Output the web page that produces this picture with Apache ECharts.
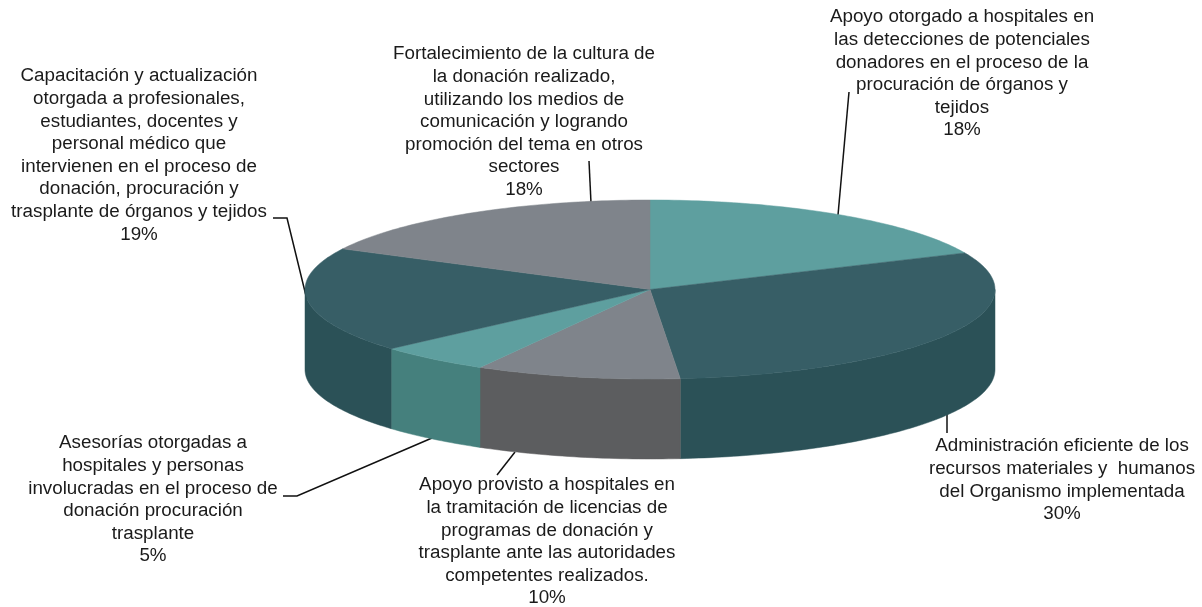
<!DOCTYPE html>
<html>
<head>
<meta charset="utf-8">
<style>
  html, body { margin: 0; padding: 0; background: #fff; }
  #main { width: 1202px; height: 607px; }
</style>
<script src="https://cdn.jsdelivr.net/npm/echarts@6/dist/echarts.min.js"></script>
</head>
<body>
<div id="main"></div>
<script>
// rebanadas en sentido horario desde las 12
var categories = [
  'Apoyo otorgado a hospitales en\nlas detecciones de potenciales\ndonadores en el proceso de la\nprocuración de órganos y\ntejidos',
  'Administración eficiente de los\nrecursos materiales y  humanos\ndel Organismo implementada',
  'Apoyo provisto a hospitales en\nla tramitación de licencias de\nprogramas de donación y\ntrasplante ante las autoridades\ncompetentes realizados.',
  'Asesorías otorgadas a\nhospitales y personas\ninvolucradas en el proceso de\ndonación procuración\ntrasplante',
  'Capacitación y actualización\notorgada a profesionales,\nestudiantes, docentes y\npersonal médico que\nintervienen en el proceso de\ndonación, procuración y\ntrasplante de órganos y tejidos',
  'Fortalecimiento de la cultura de\nla donación realizado,\nutilizando los medios de\ncomunicación y logrando\npromoción del tema en otros\nsectores'
];
var values = [18.3, 30.3, 9.6, 5.3, 19, 17.5];
var topColors = ['#5e9f9f', '#375e66', '#7f848b', '#5e9f9f', '#375e66', '#7f848b'];
var sideColors = ['#45807d', '#2b5157', '#5c5d5f', '#45807d', '#2b5157', '#5c5d5f'];

// posicion de textos y lineas guia
var labelPos = [[962, 6], [1062, 435], [547, 474], [153, 432], [139, 65], [524, 43]];
var leaders = [
  [[849, 92], [838, 215]],
  [[947, 414], [947, 433]],
  [[515, 452], [497, 475]],
  [[283, 496], [297, 496], [432, 438]],
  [[273, 218], [287, 218], [307, 300]],
  [[589, 161], [591, 203]]
];

// geometria del pastel
var cx = 650, cy = 289.5, rx = 345, ry = 89.5, depth = 80;

function rim(deg) {
  var a = deg * Math.PI / 180;
  return [cx + rx * Math.sin(a), cy - ry * Math.cos(a)];
}
function arc(from, to) {
  var pts = [];
  var n = Math.max(2, Math.ceil(Math.abs(to - from)));
  for (var i = 0; i <= n; i++) pts.push(rim(from + (to - from) * i / n));
  return pts;
}

var total = values.reduce(function (s, v) { return s + v; }, 0);
var angles = [];
values.reduce(function (s, v) {
  angles.push([s / total * 360, (s + v) / total * 360]);
  return s + v;
}, 0);

function renderPie(params, api) {
  var i = params.dataIndex;
  var from = angles[i][0], to = angles[i][1];
  var children = [];
  // pared lateral, solo la mitad del frente
  var a = Math.max(from, 90), b = Math.min(to, 270);
  if (b > a) {
    var front = arc(a, b);
    var back = front.map(function (p) { return [p[0], p[1] + depth]; }).reverse();
    children.push({
      type: 'polygon',
      shape: { points: front.concat(back) },
      style: { fill: sideColors[i], stroke: sideColors[i], lineWidth: 0.5 }
    });
  }
  children.push({
    type: 'polygon',
    z2: 10,
    shape: { points: [[cx, cy]].concat(arc(from, to)) },
    style: { fill: topColors[i], stroke: topColors[i], lineWidth: 0.5 }
  });
  return { type: 'group', children: children };
}

function renderLabel(params, api) {
  var i = params.dataIndex;
  return {
    type: 'group',
    children: [
      {
        type: 'polyline',
        shape: { points: leaders[i] },
        style: { fill: null, stroke: '#111', lineWidth: 1.5 }
      },
      {
        type: 'text',
        x: labelPos[i][0],
        y: labelPos[i][1],
        style: {
          text: categories[i] + '\n' + Math.round(api.value(0)) + '%',
          fill: '#1a1a1a',
          align: 'center',
          verticalAlign: 'top',
          lineHeight: 22.6,
          font: '18.8px "Liberation Sans", Arial, sans-serif'
        }
      }
    ]
  };
}

var chart = echarts.init(document.getElementById('main'));
chart.setOption({
  animation: false,
  backgroundColor: '#fff',
  series: [
    {
      type: 'custom',
      coordinateSystem: 'none',
      z: 1,
      renderItem: renderLabel,
      encode: { value: 0 },
      data: values
    },
    {
      type: 'custom',
      coordinateSystem: 'none',
      z: 2,
      renderItem: renderPie,
      data: values
    }
  ]
});
</script>
</body>
</html>
